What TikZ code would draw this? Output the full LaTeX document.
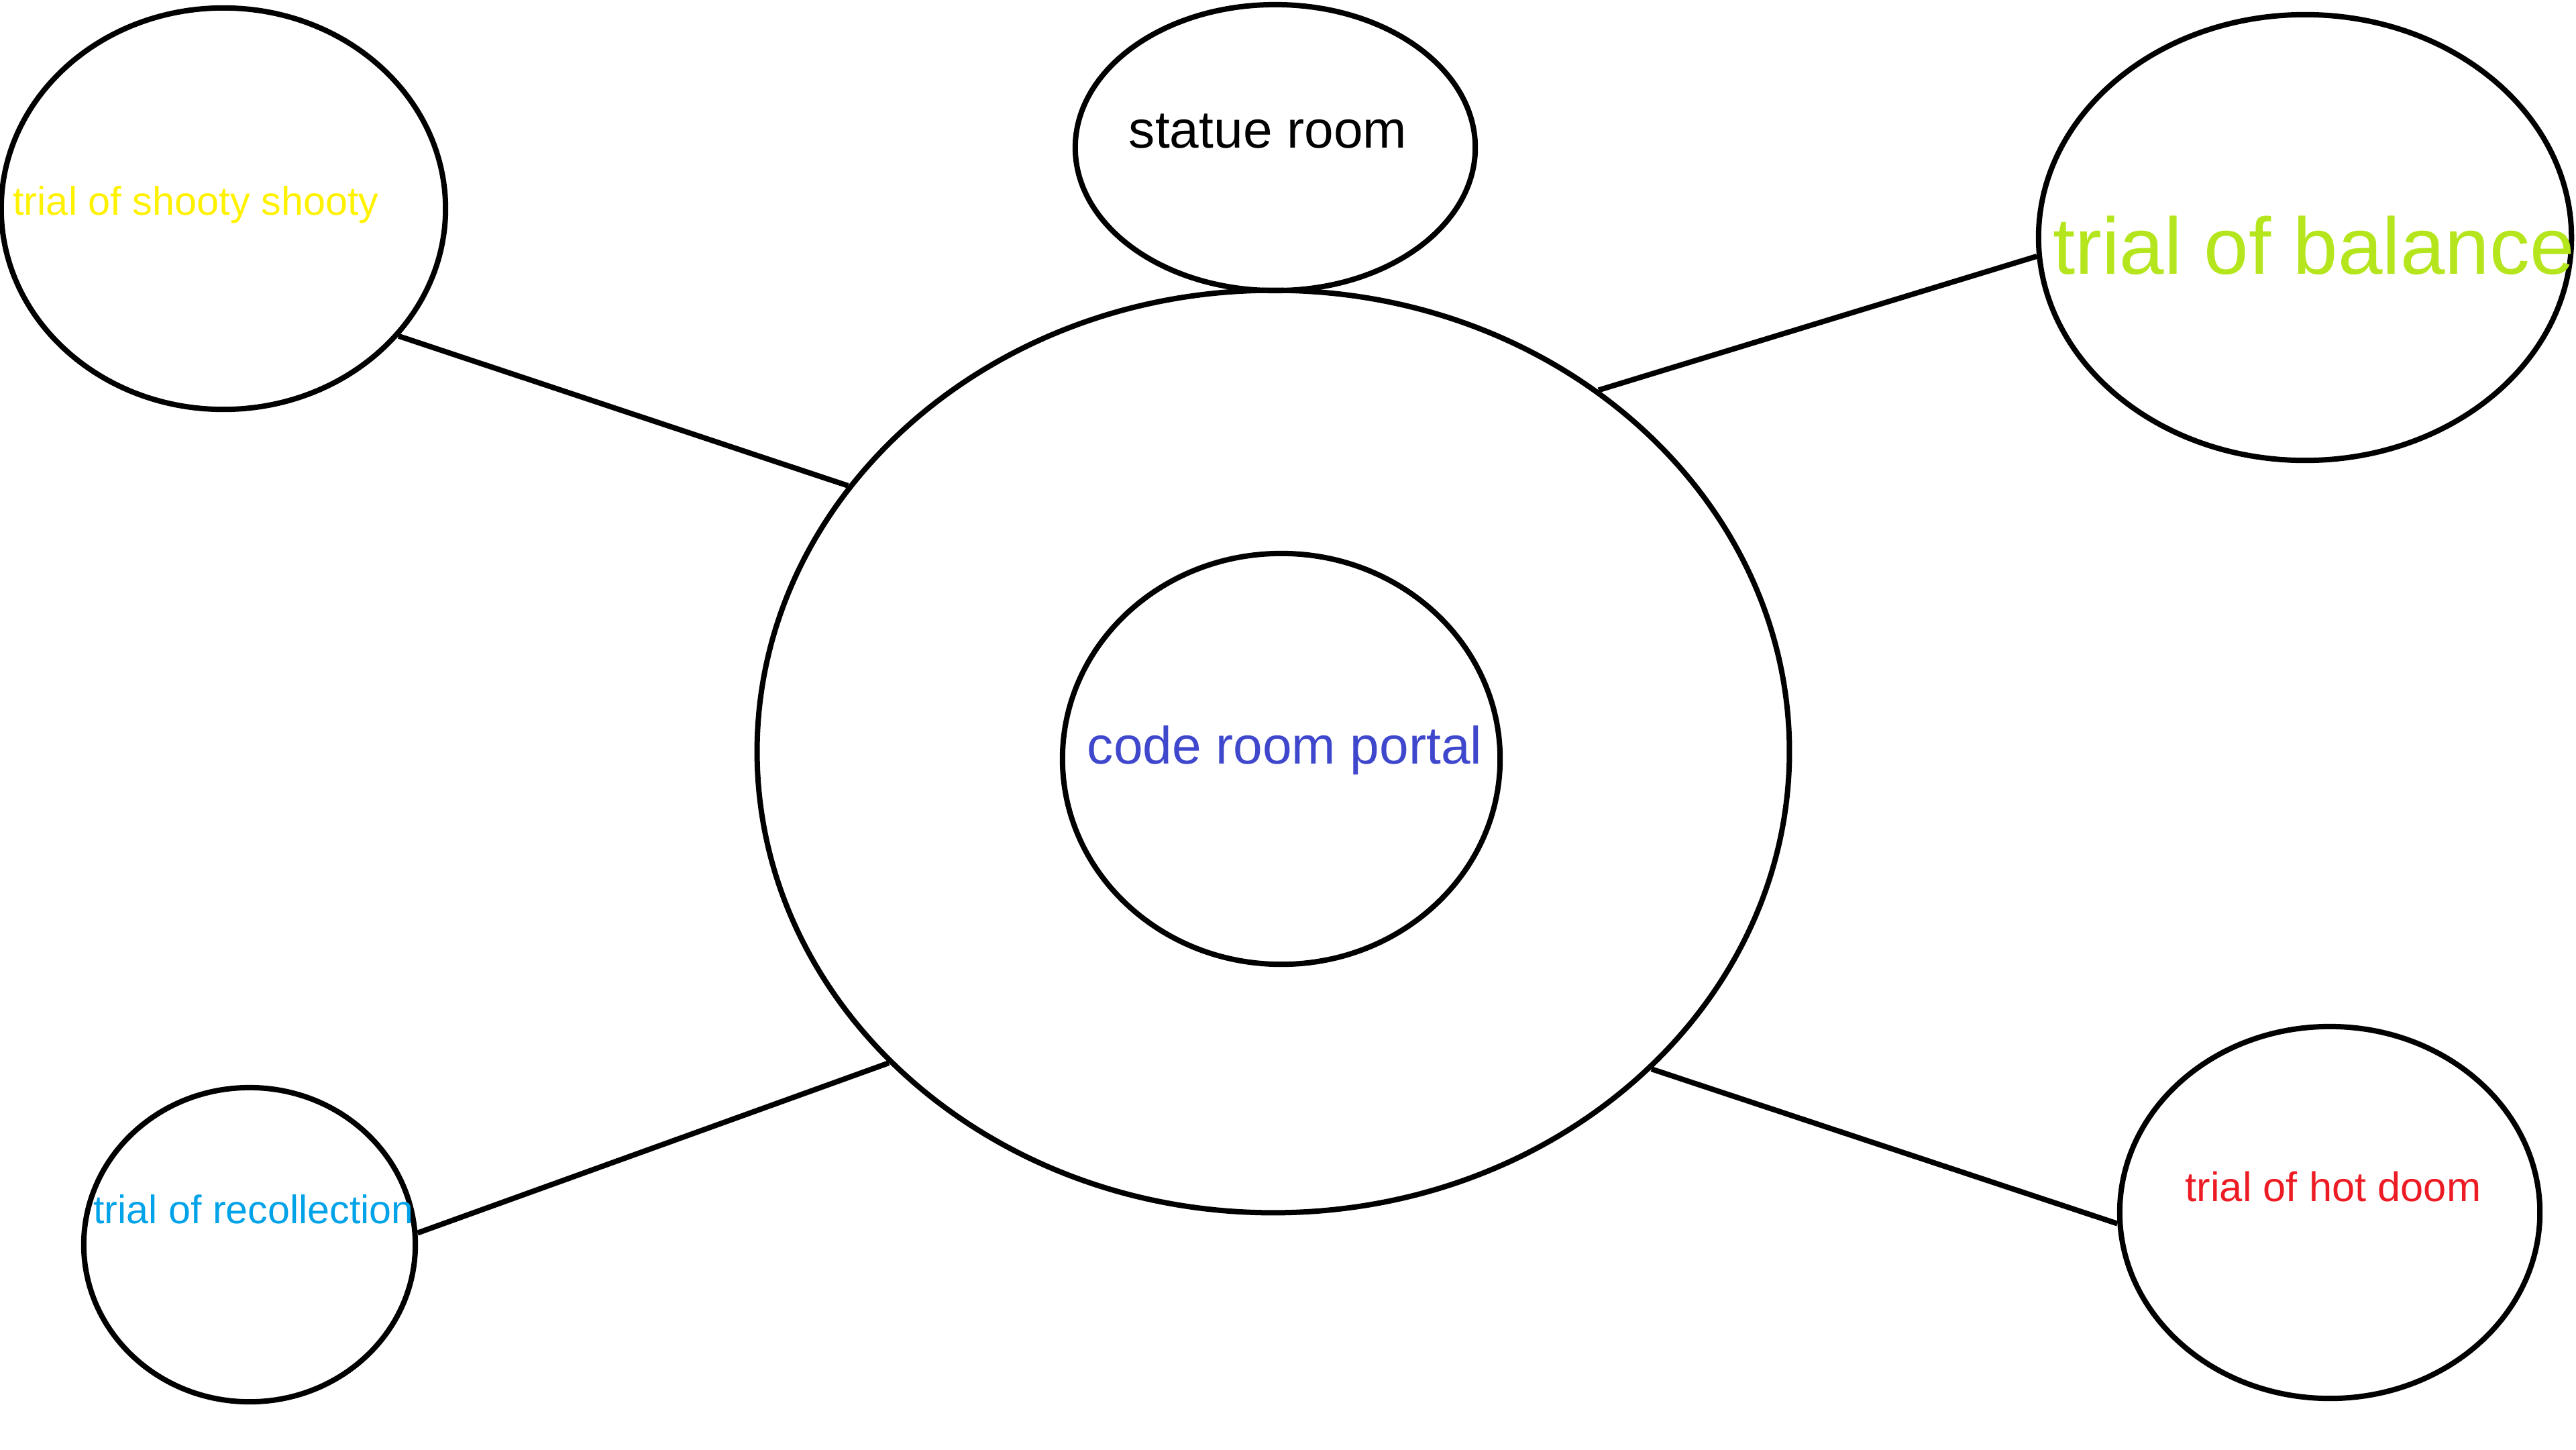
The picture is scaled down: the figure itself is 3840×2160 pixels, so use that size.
\documentclass[tikz,border=0pt]{standalone}
\usepackage{fontspec}
\setmainfont{Liberation Sans}
\usepackage{xcolor}
\usepackage{tikz}
\usetikzlibrary{shapes.geometric}
\definecolor{Yellow}{HTML}{FFF200}
\definecolor{Lime}{HTML}{B5E61D}
\definecolor{Sky}{HTML}{00A2E8}
\definecolor{Red}{HTML}{ED1C24}
\definecolor{Indigo}{HTML}{3F48CC}

\begin{document}
\begin{tikzpicture}[x=0.01cm, y=-0.01cm,
	room/.style={draw=black, line width=0.08cm, ellipse, inner sep=0pt},
	roomname/.style={inner sep=0pt, anchor=base},
	link/.style={draw=black, line width=0.08cm}]
	\useasboundingbox[fill=white] (0,0) rectangle (3840,2160);
	% rooms
	\node[room, minimum width=15.38cm, minimum height=13.74cm] (hub) at (1898,1120) {};
	\node[room, minimum width=6.52cm, minimum height=6.12cm] (portal) at (1910,1131) {};
	\node[room, minimum width=5.96cm, minimum height=4.26cm] (statue) at (1901,220) {};
	\node[room, minimum width=6.62cm, minimum height=5.98cm] (shooty) at (333,311) {};
	\node[room, minimum width=7.94cm, minimum height=6.64cm] (balance) at (3436,354) {};
	\node[room, minimum width=4.94cm, minimum height=4.68cm] (recollection) at (372,1855) {};
	\node[room, minimum width=6.26cm, minimum height=5.54cm] (hotdoom) at (3473,1807) {};
	% names
	\node[roomname, font=\fontsize{22.3}{26}\selectfont, text=Indigo] (portaltext) at (1915,1138) {code room portal};
	\node[roomname, font=\fontsize{22.3}{26}\selectfont, text=black] (statuetext) at (1890,220) {statue room};
	\node[roomname, font=\fontsize{16.9}{20}\selectfont, text=Yellow] (shootytext) at (292,320) {trial of shooty shooty};
	\node[roomname, font=\fontsize{34}{40}\selectfont, text=Lime] (balancetext) at (3449,408) {trial of balance};
	\node[roomname, font=\fontsize{16.84}{20}\selectfont, text=Sky] (recollectiontext) at (378,1823) {trial of recollection};
	\node[roomname, font=\fontsize{17.47}{20}\selectfont, text=Red] (hotdoomtext) at (3478,1790) {trial of hot doom};
	% corridors
	\draw[link] (shooty.-36) -- (hub.148);
	\draw[link] (balance.184) -- (hub.48.6);
	\draw[link] (recollection.4.8) -- (hub.219.7);
	\draw[link] (hotdoom.183) -- (hub.-40.3);
\end{tikzpicture}
\end{document}
